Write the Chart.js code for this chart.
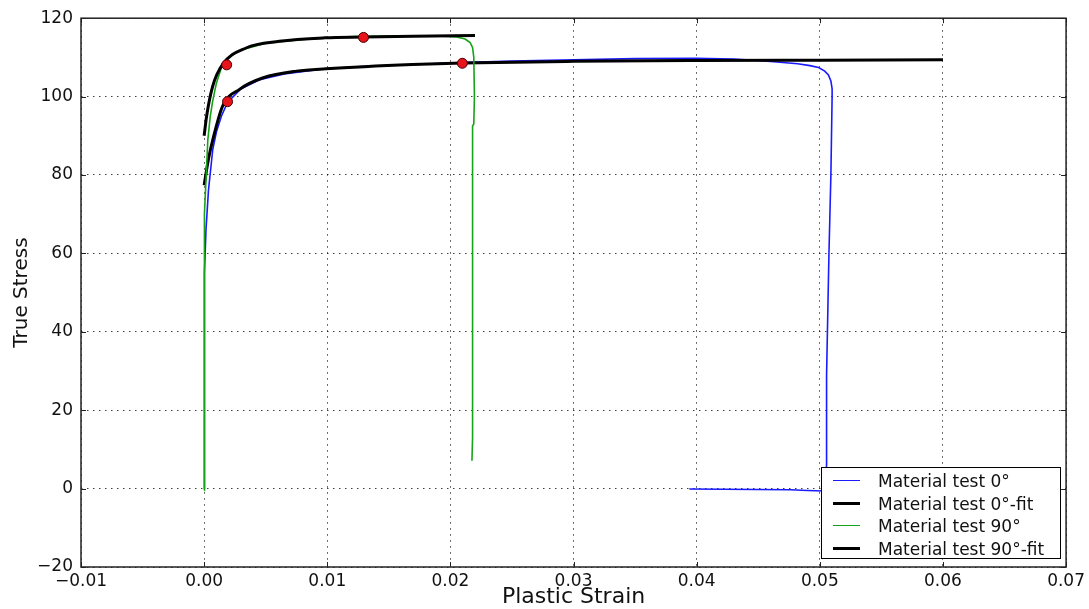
<!DOCTYPE html>
<html>
<head>
<meta charset="utf-8">
<script src="https://cdn.jsdelivr.net/npm/chart.js@4"></script>
<style>
  body { margin: 0; background: #fff; }
  #wrap { position: relative; width: 1089px; height: 609px; }
  #legend {
    position: absolute; left: 821px; top: 467px; width: 238px; height: 90px;
    border: 1.5px solid #000; background: #fff;
    font-family: "DejaVu Sans", sans-serif; font-size: 17px; color: #111;
  }
  #legend .row { position: absolute; left: 0; height: 22px; line-height: 22px; white-space: nowrap; }
  #legend .sw { position: absolute; left: 11px; top: 11px; width: 27px; }
  #legend .tx { position: absolute; left: 56px; top: 0; }
</style>
</head>
<body>
<div id="wrap">
  <canvas id="graphique" width="1089" height="609"></canvas>
  <div id="legend"></div>
</div>
<script>
// Material test 0° (blue)
const strain0 = [0, 0, 0.00005, 0.00015, 0.00035, 0.0007, 0.001, 0.0014, 0.0019, 0.003, 0.0045, 0.0065,
  0.0095, 0.013, 0.017, 0.021, 0.025, 0.03, 0.035, 0.04, 0.043, 0.045, 0.047, 0.0482, 0.0492, 0.0499,
  0.0504, 0.0507, 0.0509, 0.051, 0.051, 0.0509, 0.05074, 0.05055, 0.05055, 0.0505, 0.0503, 0.049, 0.0476, 0.0394];
const stress0 = [0, 30, 55, 66, 76, 86.5, 91, 95, 98.5, 102, 104.3, 105.8,
  107, 107.7, 108.2, 108.7, 109.1, 109.4, 109.7, 109.8, 109.6, 109.2, 108.7, 108.4, 107.9, 107.4,
  106.5, 105.5, 104, 102, 100, 80, 59.6, 29, 6.3, 2, -0.6, -0.5, -0.3, -0.1];

// Material test 0°-fit
const strain0Fit = [0, 0.00035, 0.00072, 0.0015, 0.0029, 0.0048, 0.0075, 0.0099, 0.0169, 0.021, 0.03, 0.04, 0.05, 0.06];
const stress0Fit = [77.4, 84, 89.2, 97.6, 101.9, 104.8, 106.5, 107.1, 108.2, 108.6, 109.0, 109.2, 109.3, 109.4];

// Material test 90° (green)
const strain90 = [0, 0, 0.00002, 0.00005, 0.0002, 0.0003, 0.0005, 0.0007, 0.001, 0.0015, 0.002, 0.003, 0.005,
  0.008, 0.012, 0.016, 0.019, 0.0205, 0.0212, 0.0216, 0.0218, 0.0219, 0.02195, 0.0219, 0.0218, 0.0218, 0.0218, 0.02175];
const stress90 = [-0.5, 20, 45, 70, 82, 89, 95, 99, 103.5, 108.3, 110, 111.9, 113.6,
  114.6, 115.3, 115.5, 115.5, 115.2, 114.7, 113.8, 112.5, 110, 100, 93, 92.5, 50, 13, 7.1];

// Material test 90°-fit
const strain90Fit = [0, 0.0002, 0.0007, 0.0015, 0.0034, 0.0061, 0.0098, 0.013, 0.017, 0.022];
const stress90Fit = [90, 95, 102.7, 108.2, 112.4, 114.1, 115.0, 115.2, 115.4, 115.6];

// red markers
const markStrain = [0.0019, 0.02097, 0.00183, 0.01294];
const markStress = [98.7, 108.5, 108.1, 115.1];

const xTicks = [-0.01, 0, 0.01, 0.02, 0.03, 0.04, 0.05, 0.06, 0.07];
const yTicks = [-20, 0, 20, 40, 60, 80, 100, 120];

const pts = (xs, ys) => xs.map((x, i) => ({ x: x, y: ys[i] }));

const FONT = '"DejaVu Sans", sans-serif';

// frame + inward ticks like matplotlib
const frame = {
  id: 'frame',
  afterDraw(chart) {
    const { ctx, chartArea: a, scales } = chart;
    ctx.save();
    ctx.strokeStyle = '#222';
    ctx.lineWidth = 1.5;
    ctx.strokeRect(a.left, a.top, a.right - a.left, a.bottom - a.top);
    ctx.lineWidth = 1;
    ctx.beginPath();
    xTicks.forEach(v => {
      const px = Math.round(scales.x.getPixelForValue(v)) + 0.5;
      ctx.moveTo(px, a.bottom); ctx.lineTo(px, a.bottom - 5);
      ctx.moveTo(px, a.top); ctx.lineTo(px, a.top + 5);
    });
    yTicks.forEach(v => {
      const py = Math.round(scales.y.getPixelForValue(v)) + 0.5;
      ctx.moveTo(a.left, py); ctx.lineTo(a.left + 5, py);
      ctx.moveTo(a.right, py); ctx.lineTo(a.right - 5, py);
    });
    ctx.stroke();
    ctx.restore();
  }
};

const ctx = document.getElementById('graphique');

const myChart = new Chart(ctx, {
  type: 'scatter',
  data: {
    datasets: [
      { label: 'markers', data: pts(markStrain, markStress), showLine: false, order: 0,
        pointRadius: 5, pointBackgroundColor: '#e8141b', pointBorderColor: '#400', pointBorderWidth: 1 },
      { label: 'Material test 90°-fit', data: pts(strain90Fit, stress90Fit), showLine: true, order: 1,
        borderColor: '#000', borderWidth: 3, pointRadius: 0, cubicInterpolationMode: 'monotone' },
      { label: 'Material test 90°', data: pts(strain90, stress90), showLine: true, order: 2,
        borderColor: '#17a317', borderWidth: 1.6, pointRadius: 0 },
      { label: 'Material test 0°-fit', data: pts(strain0Fit, stress0Fit), showLine: true, order: 3,
        borderColor: '#000', borderWidth: 3, pointRadius: 0, cubicInterpolationMode: 'monotone' },
      { label: 'Material test 0°', data: pts(strain0, stress0), showLine: true, order: 4,
        borderColor: '#1a1aff', borderWidth: 1.6, pointRadius: 0 }
    ]
  },
  options: {
    responsive: false,
    animation: false,
    layout: { padding: { top: 15, right: 21, left: 0, bottom: 0 } },
    plugins: { legend: { display: false }, tooltip: { enabled: false } },
    scales: {
      x: {
        type: 'linear', min: -0.01, max: 0.07,
        afterFit: s => { s.height = 42; },
        afterBuildTicks: s => { s.ticks = xTicks.map(v => ({ value: v })); },
        ticks: {
          padding: 4, color: '#111', font: { family: FONT, size: 17 },
          callback: v => (Math.abs(v) < 1e-9 ? 0 : v).toFixed(2).replace('-', '\u2212')
        },
        grid: { color: 'rgba(0,0,0,0.75)', lineWidth: 1, drawTicks: false },
        border: { display: false, dash: [1.5, 4.5] },
        title: { display: true, text: 'Plastic Strain', color: '#111',
          font: { family: FONT, size: 22, lineHeight: 1.1 }, padding: { top: 0, bottom: 0 } }
      },
      y: {
        type: 'linear', min: -20, max: 120,
        afterFit: s => { s.width = 81; },
        afterBuildTicks: s => { s.ticks = yTicks.map(v => ({ value: v })); },
        ticks: {
          padding: 8, color: '#111', font: { family: FONT, size: 17 },
          callback: v => String(v).replace('-', '\u2212')
        },
        grid: { color: 'rgba(0,0,0,0.75)', lineWidth: 1, drawTicks: false },
        border: { display: false, dash: [1.5, 4.5] },
        title: { display: true, text: 'True Stress', color: '#111',
          font: { family: FONT, size: 20 }, padding: { top: 10, bottom: 0 } }
      }
    }
  },
  plugins: [frame]
});

// legend box (bottom right, inside the axes)
const legendItems = [
  { text: 'Material test 0°', color: '#1a1aff', w: 1.6 },
  { text: 'Material test 0°-fit', color: '#000', w: 3 },
  { text: 'Material test 90°', color: '#17a317', w: 1.6 },
  { text: 'Material test 90°-fit', color: '#000', w: 3 }
];
const LEG = document.getElementById('legend');
legendItems.forEach((it, i) => {
  LEG.innerHTML += `
    <div class="row" style="top:${2 + i * 22.5}px">
      <div class="sw" style="border-top:${it.w}px solid ${it.color}; margin-top:${-it.w / 2}px"></div>
      <div class="tx">${it.text}</div>
    </div>`;
});
</script>
</body>
</html>
